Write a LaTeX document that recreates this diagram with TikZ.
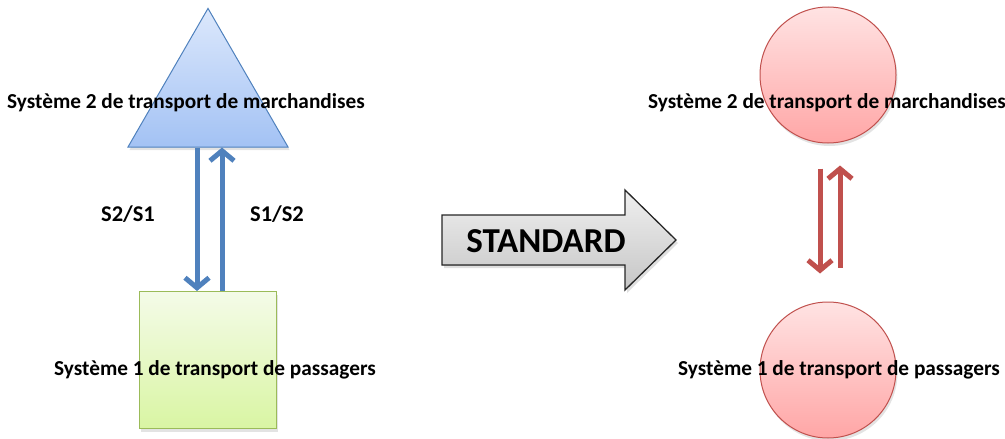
\documentclass[tikz,border=0pt]{standalone}
\usepackage{fontspec}
\setmainfont{Carlito}
\usepackage{xcolor}
\usetikzlibrary{shapes.geometric,arrows.meta,shadows}

\definecolor{bluelinecol}{HTML}{4F81BD}
\definecolor{bluetop}{HTML}{DCE8FC}
\definecolor{bluebot}{HTML}{A3C2F4}
\definecolor{greenline}{HTML}{9BBB59}
\definecolor{greentop}{HTML}{F4FBE8}
\definecolor{greenbot}{HTML}{D9F5A3}
\definecolor{redline}{HTML}{C0504D}
\definecolor{redtop}{HTML}{FFE3E3}
\definecolor{redbot}{HTML}{FFA6A6}

\tikzset{
  lbl/.style={font=\fontsize{21.3}{25}\selectfont\bfseries, inner sep=0pt},
  softshadow/.style={drop shadow={opacity=0.22, shadow xshift=1.5pt, shadow yshift=-3pt}},
  bluearrow/.style={draw=bluelinecol, line width=5pt, -{Straight Barb[length=10pt,width=24pt]}},
  redarrow/.style={draw=redline, line width=5pt, -{Straight Barb[length=10pt,width=24pt]}},
  sysred/.style={circle, draw=redline, line width=1pt, top color=redtop, bottom color=redbot,
    minimum size=136pt, inner sep=0pt, softshadow}
}

\begin{document}
\begin{tikzpicture}[x=1pt,y=-1pt]
\useasboundingbox (0,0) rectangle (1005,439);

% left side
\node[regular polygon, regular polygon sides=3, draw=bluelinecol, line width=1pt,
  top color=bluetop, bottom color=bluebot, minimum size=184.8pt, inner sep=0pt, softshadow]
  (tri2) at (208,100.8) {};
\node[rectangle, draw=greenline, line width=1pt, top color=greentop, bottom color=greenbot,
  minimum size=137pt, inner sep=0pt, softshadow] (box1) at (208,360) {};

\draw[bluearrow] ([xshift=-11pt]tri2.south) -- ([xshift=-11pt]box1.north);
\draw[bluearrow] ([xshift=14pt]box1.north) -- ([xshift=14pt]tri2.south);

\node[lbl] (t2) at (186,103) {Système 2 de transport de marchandises};
\node[lbl] (t1) at (215,370) {Système 1 de transport de passagers};
\node[lbl, font=\fontsize{22.5}{26}\selectfont\bfseries] (s21) at (128,214) {S2/S1};
\node[lbl, font=\fontsize{22.5}{26}\selectfont\bfseries] (s12) at (277,214) {S1/S2};

% big arrow
\filldraw[draw=black!85, line width=1.3pt, top color=gray!12, bottom color=gray!45,
  drop shadow={opacity=0.25, shadow xshift=2pt, shadow yshift=-3pt}]
  (442,215) -- (625,215) -- (625,190) -- (676,240) -- (625,290) -- (625,265) -- (442,265) -- cycle;
\node[font=\fontsize{35}{40}\selectfont\bfseries, inner sep=0pt] (std) at (546,241) {STANDARD};

% right side
\node[sysred] (c2) at (828,75) {};
\node[sysred] (c1) at (828,370) {};

\draw[redarrow, shorten <=25pt, shorten >=28pt] ([xshift=-8pt]c2.south) -- ([xshift=-8pt]c1.north);
\draw[redarrow, shorten <=34pt, shorten >=22pt] ([xshift=12pt]c1.north) -- ([xshift=12pt]c2.south);

\node[lbl] (r2) at (827,103) {Système 2 de transport de marchandises};
\node[lbl] (r1) at (839,370) {Système 1 de transport de passagers};
\end{tikzpicture}
\end{document}
